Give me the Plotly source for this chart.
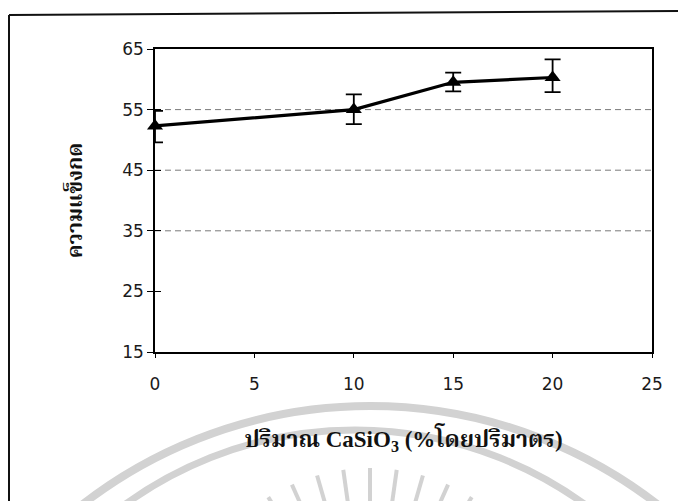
import math
import plotly.graph_objects as go

# ---- data ----
x_vals = [0, 10, 15, 20]
y_vals = [52.3, 55.0, 59.5, 60.3]
err_plus = [2.5, 2.5, 1.6, 3.0]
err_minus = [2.7, 2.4, 1.5, 2.4]
x_ticks = [0, 5, 10, 15, 20, 25]
y_ticks = [15, 25, 35, 45, 55, 65]
grid_y = [35, 45, 55]
x_title = "ปริมาณ CaSiO<sub>3</sub> (%โดยปริมาตร)"
y_title = "ความแข็งกด"

# ---- layout geometry ----
W, H = 678, 501
L, R, T, B = 155, 26, 49, 149
PW, PH = W - L - R, H - T - B


def px(xp):
    return (xp - L) / PW


def py(yp):
    return (H - B - yp) / PH


THAI = "Liberation Serif, Noto Serif Thai, Noto Sans Thai, serif"
TICKF = dict(family="DejaVu Sans, Verdana, sans-serif", size=17, color="#1a1a1a")

fig = go.Figure()
fig.add_trace(go.Scatter(
    x=x_vals, y=y_vals, mode="lines+markers",
    line=dict(color="black", width=3.2),
    marker=dict(symbol="triangle-up", size=14, color="black"),
    error_y=dict(type="data", symmetric=False, array=err_plus,
                 arrayminus=err_minus, color="black", thickness=1.8, width=8),
    cliponaxis=False, showlegend=False, hoverinfo="x+y",
))
# invisible trace carrying the inner tick axis
fig.add_trace(go.Scatter(x=x_vals, y=y_vals, yaxis="y2", mode="markers",
                         marker=dict(opacity=0), showlegend=False,
                         hoverinfo="skip"))

shapes = []
# dashed horizontal gridlines
for g in grid_y:
    shapes.append(dict(type="line", xref="paper", yref="y", x0=0, x1=1,
                       y0=g, y1=g, layer="below",
                       line=dict(color="#7a7a7a", width=1, dash="6px,4px")))

# watermark (decoration): two arcs and rays
wm = "#d2d2d2"
for (cx, cy, r, w) in [(370, 875, 469, 8), (355, 822, 392, 7)]:
    shapes.append(dict(type="circle", xref="paper", yref="paper",
                       x0=px(cx - r), x1=px(cx + r), y0=py(cy + r), y1=py(cy - r),
                       layer="below", line=dict(color=wm, width=w)))
rcx, rcy = 370, 660
for ang in [-32, -24, -16, -8, 0, 8, 16, 24, 32]:
    a = math.radians(ang)
    r0, r1 = 120, 192
    shapes.append(dict(type="line", xref="paper", yref="paper",
                       x0=px(rcx + r0 * math.sin(a)), y0=py(rcy - r0 * math.cos(a)),
                       x1=px(rcx + r1 * math.sin(a)), y1=py(rcy - r1 * math.cos(a)),
                       layer="below", line=dict(color=wm, width=4)))

# outer chart border (left and top edges visible in the scan)
shapes.append(dict(type="line", xref="paper", yref="paper",
                   x0=px(9), y0=py(15), x1=px(9), y1=py(510),
                   line=dict(color="#111", width=2)))
shapes.append(dict(type="line", xref="paper", yref="paper",
                   x0=px(9), y0=py(15), x1=px(680), y1=py(11),
                   line=dict(color="#111", width=2)))

fig.update_layout(
    width=W, height=H, autosize=False,
    margin=dict(l=L, r=R, t=T, b=B, pad=0),
    paper_bgcolor="white", plot_bgcolor="white",
    shapes=shapes,
    xaxis=dict(range=[0, 25], tickvals=x_ticks, ticks="outside", ticklen=4,
               tickcolor="black", showline=True, linecolor="black",
               linewidth=1.5, mirror=True, showgrid=False, zeroline=False,
               tickfont=TICKF, ticklabelstandoff=12,
               title=dict(text=x_title, standoff=38,
                          font=dict(family=THAI, size=23, color="#111",
                                    weight="bold"))),
    yaxis=dict(range=[15, 65], tickvals=y_ticks, ticks="outside", ticklen=6,
               tickcolor="black", showline=True, linecolor="black",
               linewidth=1.5, mirror=True, showgrid=False, zeroline=False,
               tickfont=TICKF,
               title=dict(text=y_title, standoff=34,
                          font=dict(family=THAI, size=21, color="#111",
                                    weight="bold"))),
    yaxis2=dict(range=[15, 65], tickvals=y_ticks, ticks="inside", ticklen=6,
                tickcolor="black", overlaying="y", side="left",
                showticklabels=False, showgrid=False, zeroline=False,
                showline=False),
)

fig.write_html("out.html")
